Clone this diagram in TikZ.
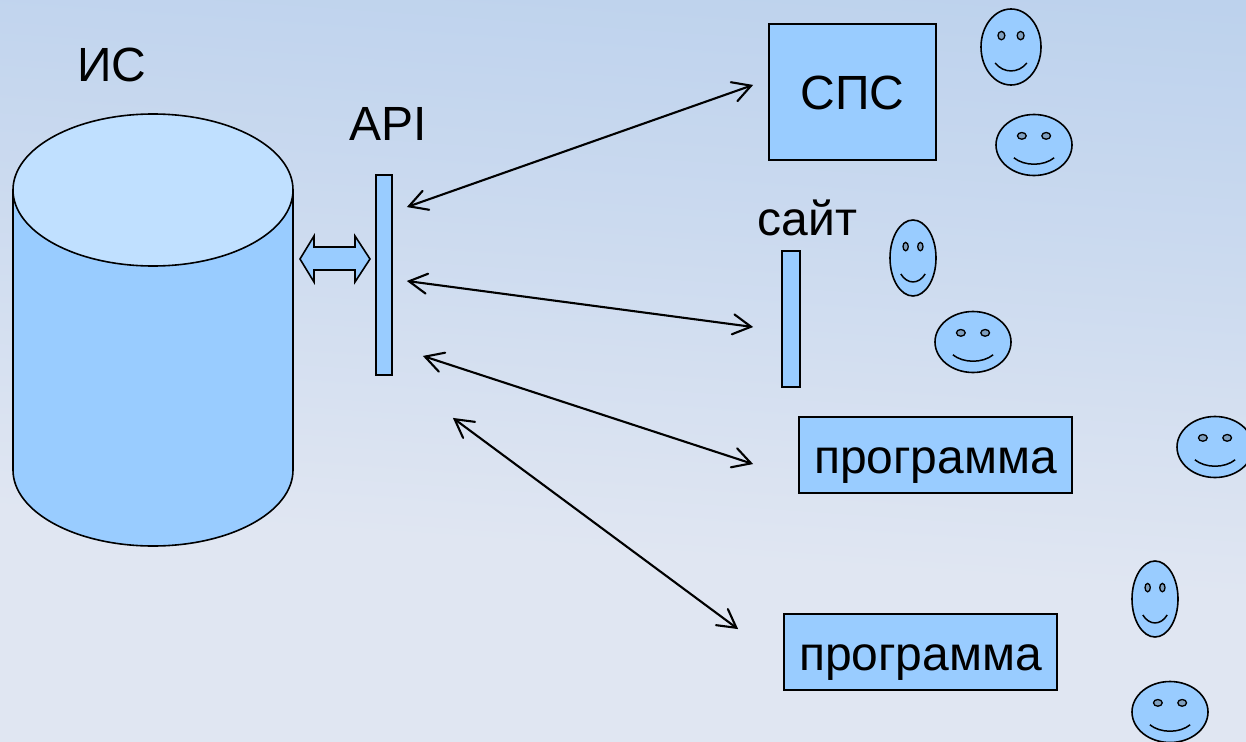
\documentclass[tikz,border=0pt]{standalone}
\usepackage{fontspec}
\setmainfont{Liberation Sans}
\usetikzlibrary{arrows.meta}
\definecolor{fillblue}{HTML}{99CCFF}
\definecolor{toplight}{HTML}{C0E0FF}
\definecolor{eyegrey}{HTML}{7F9FBF}
\definecolor{bgtop}{HTML}{B6CEEC}
\definecolor{bgmid}{HTML}{CBDAEF}
\definecolor{bgbot}{HTML}{E0E6F2}
\pgfdeclareverticalshading{bgshade}{100bp}{color(0bp)=(bgbot); color(39bp)=(bgbot); color(59bp)=(bgmid); color(82bp)=(bgtop); color(100bp)=(bgtop)}
\pgfdeclarearrow{
  name=OpenVee,
  setup code={\pgfarrowssettipend{0pt}\pgfarrowssetlineend{-3pt}\pgfarrowssetvisualbackend{-20pt}\pgfarrowssetbackend{-20pt}},
  drawing code={\pgfsetdash{}{0pt}\pgfsetroundcap\pgfsetmiterjoin
    \pgfpathmoveto{\pgfqpoint{-20pt}{10pt}}\pgfpathlineto{\pgfqpoint{-2pt}{0pt}}\pgfpathlineto{\pgfqpoint{-20pt}{-10pt}}\pgfusepathqstroke}
}
\tikzset{
  shape line/.style={draw=black,line width=1.6pt},
  blue box/.style={shape line,fill=fillblue,inner sep=0pt,outer sep=0pt,minimum width=#1},
  label text/.style={font=\fontsize{48}{50}\selectfont,inner sep=0pt,text=black},
  box text/.style={label text,text height=36pt,text depth=0pt},
  link/.style={line width=2.1pt,OpenVee-OpenVee}
}
\newcommand{\smiley}[4]{% cx, cy, rx, ry
  \begin{scope}[shift={(#1,#2)},x=#3pt,y=-#4pt]
    \fill[fillblue] (0,0) circle[x radius=1,y radius=1];
    \draw[line width=1.6pt] (0,0) circle[x radius=1,y radius=1];
    \draw[line width=1.3pt,fill=eyegrey] (-.32,-.3) circle[x radius=.115,y radius=.11];
    \draw[line width=1.3pt,fill=eyegrey] (.32,-.3) circle[x radius=.115,y radius=.11];
    \draw[line width=1.5pt] (-.53,.42) .. controls (-.25,.7) and (.25,.7) .. (.53,.42);
  \end{scope}}
\begin{document}
\begin{tikzpicture}[x=1pt,y=-1pt]
\useasboundingbox (0,0) rectangle (1246,741);
\clip (0,0) rectangle (1246,741);
\shade[shading=bgshade,shading angle=-4] (-40,-30) rectangle (1286,771);
% cylinder
\path[shape line,fill=fillblue] (13,190) -- (13,470) arc[start angle=180,end angle=0,x radius=140,y radius=76] -- (293,190) -- cycle;
\path[shape line,fill=toplight] (153,190) circle[x radius=140,y radius=76];
% bars and boxes
\node[blue box=16pt,minimum height=200pt] (api) at (384,275) {};
\node[blue box=18pt,minimum height=136pt] (site) at (791,319) {};
\node[blue box=167pt,minimum height=136pt,box text] (sps) at (852.5,92) {СПС};
\node[blue box=273pt,minimum height=76pt,box text] (prog1) at (935.5,455) {программа};
\node[blue box=273pt,minimum height=76pt,box text] (prog2) at (920.5,652) {программа};
% block arrow
\draw[shape line,fill=fillblue,line join=miter] (300,259) -- (314,236) -- (314,247) -- (355,247) -- (355,236) -- (370,259) -- (355,282) -- (355,270) -- (314,270) -- (314,282) -- cycle;
% labels
\node[label text,anchor=base] (is) at (112,82) {ИС};
\node[label text,anchor=base] (apilabel) at (388,140) {API};
\node[label text,anchor=base] (sitelabel) at (807.5,235) {сайт};
% connectors
\coordinate (a1) at (407,207);
\coordinate (a2) at (407,281);
\coordinate (a3) at (423,356);
\coordinate (a4) at (453,418);
\coordinate (b1) at (753,85);
\coordinate (b2) at (753,327);
\coordinate (b3) at (753,464);
\coordinate (b4) at (738,629);
\draw[link] (a1) -- (b1);
\draw[link] (a2) -- (b2);
\draw[link] (a3) -- (b3);
\draw[link] (a4) -- (b4);
% faces
\smiley{1011}{47}{30}{38}
\smiley{1034}{145}{38}{30.5}
\smiley{913}{258}{23}{38}
\smiley{973}{342}{38}{30.5}
\smiley{1215}{447}{38}{30.5}
\smiley{1155}{599}{23}{38}
\smiley{1170}{712}{38}{30.5}
\end{tikzpicture}
\end{document}
